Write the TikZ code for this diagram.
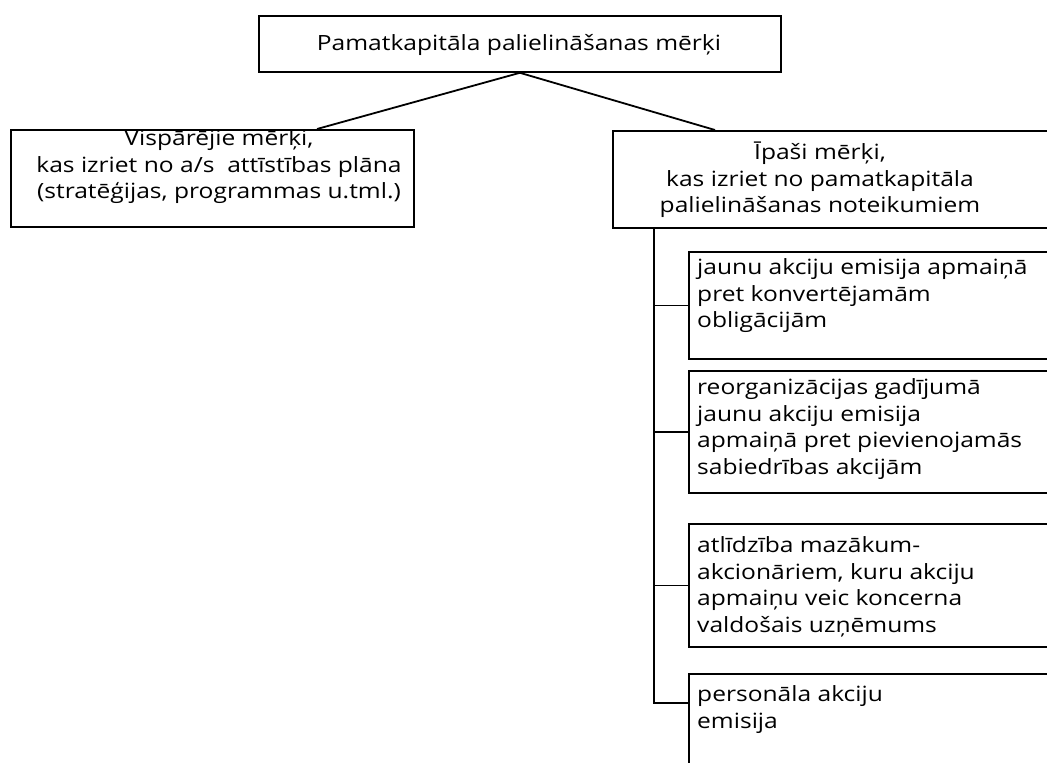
\documentclass[tikz,border=0pt]{standalone}
\usepackage{fontspec}
\setmainfont[FakeStretch=1.17]{Open Sans}
\tikzset{
  frame/.style={draw=black, line width=1.8pt, inner sep=0pt, anchor=north west},
  boxtext/.style={inner sep=0pt, font=\fontsize{21}{26.5}\selectfont},
  link/.style={draw=black, line width=1.8pt}
}
\begin{document}
\begin{tikzpicture}[x=1pt, y=-1pt]
\useasboundingbox (0,0) rectangle (1047,763);
\clip (0,0) rectangle (1047,763);

% frames
\node[frame, minimum width=522pt, minimum height=56pt] (goal) at (258,15) {};
\node[frame, minimum width=403pt, minimum height=97pt] (general) at (10,129) {};
\node[frame, minimum width=460pt, minimum height=97pt] (special) at (612,130) {};
\node[frame, minimum width=380pt, minimum height=107pt] (s1) at (688,251) {};
\node[frame, minimum width=380pt, minimum height=122pt] (s2) at (688,370) {};
\node[frame, minimum width=380pt, minimum height=123pt] (s3) at (688,523) {};
\node[frame, minimum width=380pt, minimum height=120pt] (s4) at (688,673) {};

% texts
\node[boxtext, anchor=base] (tgoal) at (519,50) {Pamatkapitāla palielināšanas mērķi};
\node[boxtext, align=center, anchor=north] (tgeneral) at (219,126.75)
  {\strut Vispārējie mērķi,\\kas izriet no a/s\ \ attīstības plāna\\(stratēģijas, programmas u.tml.)};
\node[boxtext, align=center, anchor=north] (tspecial) at (820,140.75)
  {\strut Īpaši mērķi,\\kas izriet no pamatkapitāla\\palielināšanas noteikumiem};
\node[boxtext, align=left, anchor=north west] (ts1) at (697,255.75)
  {\strut jaunu akciju emisija apmaiņā\\pret konvertējamām\\obligācijām};
\node[boxtext, align=left, anchor=north west] (ts2) at (697,375.75)
  {\strut reorganizācijas gadījumā\\jaunu akciju emisija\\apmaiņā pret pievienojamās\\sabiedrības akcijām};
\node[boxtext, align=left, anchor=north west] (ts3) at (697,533.75)
  {\strut atlīdzība mazākum-\\akcionāriem, kuru akciju\\apmaiņu veic koncerna\\valdošais uzņēmums};
\node[boxtext, align=left, anchor=north west] (ts4) at (697,682.75)
  {\strut personāla akciju\\emisija};

% connectors
\draw[link] (goal.south) -- ([xshift=307pt]general.north west);
\draw[link] (goal.south) -- ([xshift=103pt]special.north west);
\coordinate (trunktop) at ([xshift=42pt]special.south west);
\coordinate (trunkend) at (654,703);
\draw[link] (trunktop) -- (trunkend) -- (s4.west |- trunkend);
\draw[link] (trunktop |- s1.west) -- (s1.west);
\draw[link] (trunktop |- s2.west) -- (s2.west);
\draw[link] (trunktop |- s3.west) -- (s3.west);
\end{tikzpicture}
\end{document}
